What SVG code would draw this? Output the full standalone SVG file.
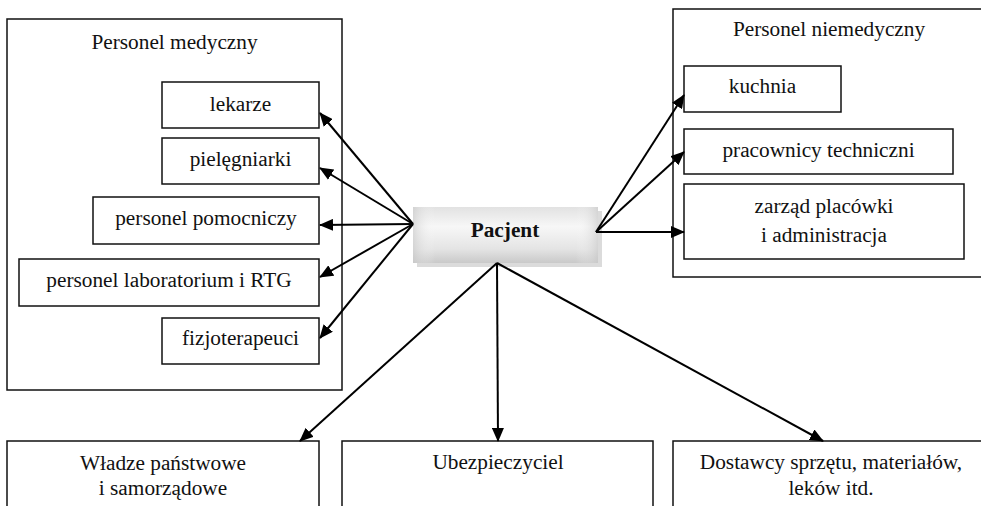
<svg xmlns="http://www.w3.org/2000/svg" width="981" height="506" viewBox="0 0 981 506">
<style>
.box{fill:#fff;stroke:#111;stroke-width:1.5}
.t{font-family:'Liberation Serif','Tinos','DejaVu Serif',serif;font-size:21.3px;fill:#111;text-anchor:middle}
.b{font-weight:bold}
.c{stroke:#000;stroke-width:2;fill:none;marker-end:url(#ah)}
</style>
<defs>
<marker id="ah" markerUnits="userSpaceOnUse" markerWidth="14" markerHeight="12" refX="13" refY="6" orient="auto">
<path d="M0,0 L14,6 L0,12 Z" fill="#000"/>
</marker>
<linearGradient id="pg" x1="0" y1="0" x2="0" y2="1">
<stop offset="0" stop-color="#e2e2e2"/>
<stop offset="0.35" stop-color="#f7f7f7"/>
<stop offset="0.75" stop-color="#e4e4e4"/>
<stop offset="1" stop-color="#c9c9c9"/>
</linearGradient>
<linearGradient id="ph" x1="0" y1="0" x2="1" y2="0">
<stop offset="0" stop-color="#c8c8c8" stop-opacity="0.6"/>
<stop offset="0.12" stop-color="#fff" stop-opacity="0"/>
<stop offset="0.88" stop-color="#fff" stop-opacity="0"/>
<stop offset="1" stop-color="#c8c8c8" stop-opacity="0.6"/>
</linearGradient>
</defs>
<g id="personel-medyczny">
<rect class="box" x="7" y="19" width="335" height="371"/>
<text class="t" x="174.5" y="49">Personel medyczny</text>
</g>
<g id="lekarze">
<rect class="box" x="162" y="82" width="157" height="46"/>
<text class="t" x="240.5" y="111">lekarze</text>
</g>
<g id="pielegniarki">
<rect class="box" x="162" y="138" width="157" height="46"/>
<text class="t" x="240.5" y="166">pielęgniarki</text>
</g>
<g id="personel-pomocniczy">
<rect class="box" x="93" y="197" width="226" height="47"/>
<text class="t" x="206" y="225">personel pomocniczy</text>
</g>
<g id="personel-laboratorium">
<rect class="box" x="19" y="259" width="300" height="47"/>
<text class="t" x="169" y="287">personel laboratorium i RTG</text>
</g>
<g id="fizjoterapeuci">
<rect class="box" x="162" y="318" width="157" height="46"/>
<text class="t" x="240.5" y="345">fizjoterapeuci</text>
</g>
<g id="personel-niemedyczny">
<rect class="box" x="673" y="9" width="320" height="268"/>
<text class="t" x="829" y="36">Personel niemedyczny</text>
</g>
<g id="kuchnia">
<rect class="box" x="684" y="66" width="157" height="46"/>
<text class="t" x="762.5" y="93">kuchnia</text>
</g>
<g id="pracownicy-techniczni">
<rect class="box" x="684" y="129" width="269" height="45"/>
<text class="t" x="818.5" y="157">pracownicy techniczni</text>
</g>
<g id="zarzad">
<rect class="box" x="684" y="184" width="280" height="75"/>
<text class="t" x="824" y="213">zarząd placówki</text>
<text class="t" x="824" y="242">i administracja</text>
</g>
<g id="pacjent">
<rect x="417" y="211" width="185" height="56" fill="#bdbdbd" opacity="0.55"/>
<rect x="413" y="207" width="185" height="56" fill="url(#pg)"/>
<rect x="413" y="207" width="185" height="56" fill="url(#ph)"/>
<text class="t b" x="505" y="237">Pacjent</text>
</g>
<g id="wladze">
<rect class="box" x="7" y="441" width="312" height="80"/>
<text class="t" x="163" y="470">Władze państwowe</text>
<text class="t" x="163" y="495">i samorządowe</text>
</g>
<g id="ubezpieczyciel">
<rect class="box" x="342" y="441" width="311" height="80"/>
<text class="t" x="498" y="469">Ubezpieczyciel</text>
</g>
<g id="dostawcy">
<rect class="box" x="673" y="441" width="320" height="80"/>
<text class="t" x="831" y="469">Dostawcy sprzętu, materiałów,</text>
<text class="t" x="831" y="495">leków itd.</text>
</g>
<g id="connectors">
<line class="c" x1="413" y1="224" x2="320" y2="113"/>
<line class="c" x1="413" y1="224" x2="320" y2="168"/>
<line class="c" x1="413" y1="224" x2="320" y2="225"/>
<line class="c" x1="413" y1="224" x2="320" y2="277"/>
<line class="c" x1="413" y1="224" x2="320" y2="338"/>
<line class="c" x1="596" y1="232" x2="684" y2="95"/>
<line class="c" x1="596" y1="232" x2="684" y2="152"/>
<line class="c" x1="596" y1="232" x2="684" y2="232"/>
<line class="c" x1="497" y1="263" x2="300" y2="441"/>
<line class="c" x1="497" y1="263" x2="498" y2="441"/>
<line class="c" x1="497" y1="263" x2="823" y2="441"/>
</g>
</svg>
